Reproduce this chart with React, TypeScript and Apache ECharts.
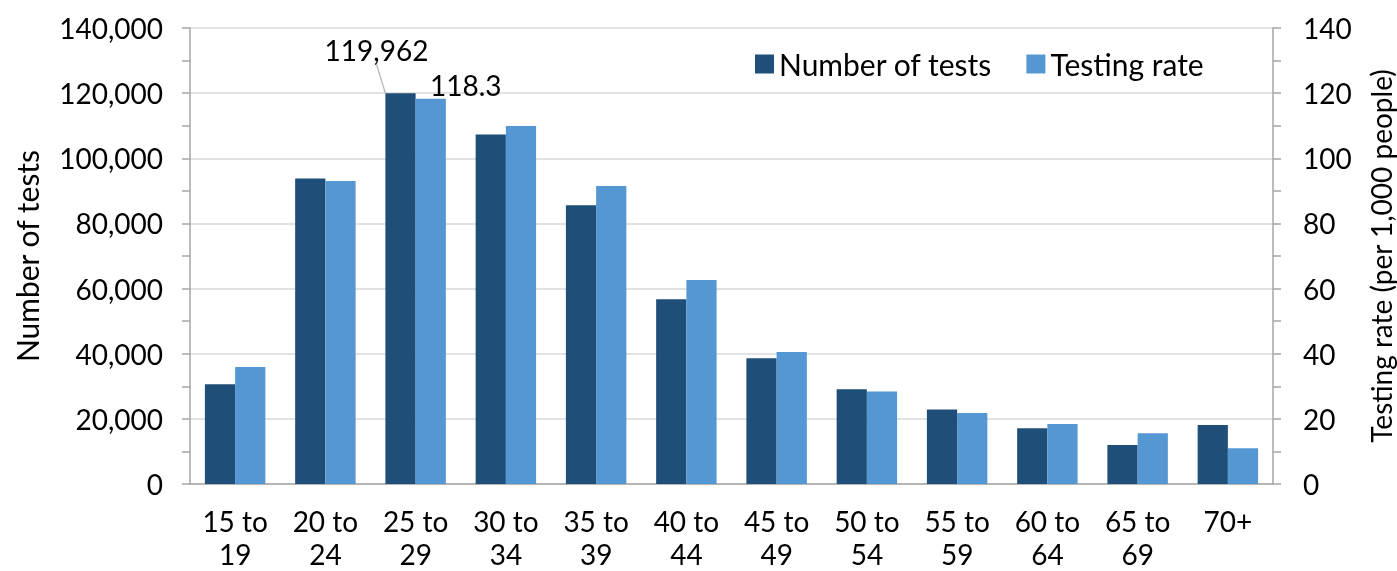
import React, { useEffect, useRef } from "react";
import * as echarts from "echarts";

const categories = ["15 to\n19", "20 to\n24", "25 to\n29", "30 to\n34", "35 to\n39", "40 to\n44", "45 to\n49", "50 to\n54", "55 to\n59", "60 to\n64", "65 to\n69", "70+"];
const numberOfTests = [30600, 93800, 119962, 107300, 85600, 56700, 38600, 29100, 22900, 17100, 12000, 18100];
const testingRate = [35.9, 93.0, 118.3, 109.9, 91.5, 62.6, 40.5, 28.4, 21.8, 18.4, 15.6, 11.0];
const labelledIndex = 2;

const FONT = "Lato";

export default function App() {
  const ref = useRef<HTMLDivElement>(null);
  useEffect(() => {
    const chart = echarts.init(ref.current!, null, { renderer: "svg" });
    const axisLineColor = "#A6A6A6";
    chart.setOption({
      animation: false,
      textStyle: { fontFamily: FONT, color: "#000" },
      legend: {
        top: 44,
        left: 750,
        icon: "rect",
        itemWidth: 19,
        itemHeight: 19,
        itemGap: 34,
        textStyle: { fontFamily: FONT, fontSize: 30, color: "#000" },
        data: ["Number of tests", "Testing rate"],
      },
      grid: { left: 190, right: 124, top: 28, bottom: 87, containLabel: false, outerBoundsMode: "none" },
      xAxis: {
        type: "category",
        data: categories,
        axisLine: { lineStyle: { color: axisLineColor, width: 1.5 } },
        axisTick: { show: false },
        axisLabel: { fontFamily: FONT, fontSize: 28, color: "#000", margin: 20, lineHeight: 33 },
      },
      yAxis: [
        {
          type: "value",
          min: 0,
          max: 140000,
          interval: 20000,
          name: "Number of tests",
          nameLocation: "middle",
          nameGap: 148,
          nameTextStyle: { fontFamily: FONT, fontSize: 30, color: "#000" },
          axisLine: { show: true, lineStyle: { color: axisLineColor, width: 1.5 } },
          axisTick: { show: true, length: 8, lineStyle: { color: axisLineColor, width: 1.5 } },
          minorTick: { show: true, splitNumber: 2, length: 8, lineStyle: { color: axisLineColor, width: 1.5 } },
          splitLine: { lineStyle: { color: "#D9D9D9", width: 1.5 } },
          axisLabel: {
            fontFamily: FONT,
            fontSize: 28,
            color: "#000",
            margin: 27,
            formatter: (v: number) => v.toLocaleString("en-US"),
          },
        },
        {
          type: "value",
          min: 0,
          max: 140,
          interval: 20,
          name: "Testing rate (per 1,000 people)",
          nameLocation: "middle",
          nameGap: 94,
          nameRotate: 90,
          nameTextStyle: { fontFamily: FONT, fontSize: 28, color: "#000" },
          axisLine: { show: true, lineStyle: { color: axisLineColor, width: 1.5 } },
          axisTick: { show: true, length: 8, lineStyle: { color: axisLineColor, width: 1.5 } },
          minorTick: { show: true, splitNumber: 2, length: 8, lineStyle: { color: axisLineColor, width: 1.5 } },
          splitLine: { show: false },
          axisLabel: { fontFamily: FONT, fontSize: 28, color: "#000", margin: 30 },
        },
      ],
      series: [
        {
          name: "Number of tests",
          type: "bar",
          yAxisIndex: 0,
          barGap: "0%",
          barCategoryGap: "33%",
          itemStyle: { color: "#1F4E79" },
          data: numberOfTests.map((v, i) =>
            i === labelledIndex
              ? {
                  value: v,
                  label: {
                    show: true,
                    position: "top",
                    fontFamily: FONT,
                    fontSize: 28,
                    color: "#000",
                    formatter: (p: any) => Number(p.value).toLocaleString("en-US"),
                  },
                  labelLine: { show: true, lineStyle: { color: "#BFBFBF", width: 1.5 } },
                }
              : v
          ),
          labelLayout: (p: any) => (p.dataIndex === labelledIndex ? { dx: -24, dy: -24 } : {}),
        },
        {
          name: "Testing rate",
          type: "bar",
          yAxisIndex: 1,
          itemStyle: { color: "#5597D3" },
          data: testingRate.map((v, i) =>
            i === labelledIndex
              ? {
                  value: v,
                  label: {
                    show: true,
                    position: "top",
                    fontFamily: FONT,
                    fontSize: 28,
                    color: "#000",
                    formatter: (p: any) => Number(p.value).toFixed(1),
                  },
                }
              : v
          ),
          labelLayout: (p: any) => (p.dataIndex === labelledIndex ? { dx: 35, dy: 5 } : {}),
        },
      ],
    });
    return () => chart.dispose();
  }, []);
  return <div ref={ref} style={{ position: "fixed", left: 0, top: 0, width: 1397, height: 571 }} />;
}
